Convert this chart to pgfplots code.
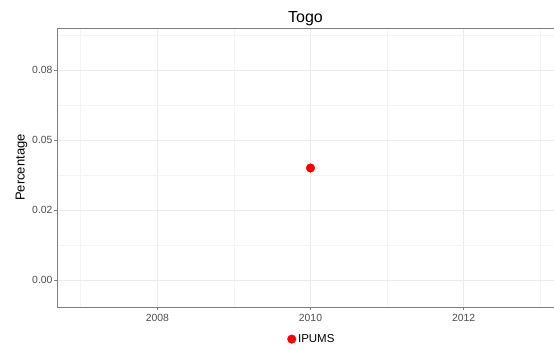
\documentclass[border=0pt]{standalone}
\usepackage{pgfplots}
\pgfplotsset{compat=1.18}
\usepackage{fontspec}
\setmainfont{Liberation Sans}
\definecolor{gridmaj}{HTML}{EBEBEB}
\definecolor{gridmin}{HTML}{F4F4F4}
\definecolor{ticktxt}{HTML}{4D4D4D}
\definecolor{frame}{HTML}{7F7F7F}
\begin{document}
\begin{tikzpicture}[x=1pt,y=1pt]
\useasboundingbox (0,0) rectangle (554,349);
\begin{axis}[
  at={(57pt,42pt)}, anchor=south west,
  scale only axis, width=497pt, height=279pt,
  xmin=2006.69, xmax=2013.18,
  ymin=-0.00964, ymax=0.09,
  scaled y ticks=false, scaled x ticks=false,
  xtick={2008,2010,2012},
  xticklabels={2008,2010,2012},
  minor xtick={2007,2009,2011,2013},
  ytick={0,0.025,0.05,0.075},
  yticklabels={0.00,0.02,0.05,0.08},
  minor ytick={0.0125,0.0375,0.0625,0.0875},
  grid=both,
  major grid style={gridmaj, line width=0.7pt},
  minor grid style={gridmin, line width=0.5pt},
  axis line style={frame, line width=0.8pt},
  tick style={frame, line width=0.6pt},
  tick align=outside,
  major tick length=3pt,
  minor tick length=0pt,
  xtick pos=bottom, ytick pos=left,
  ticklabel style={font=\fontsize{10.4}{12}\selectfont, text=ticktxt},
  xticklabel style={yshift=-0.5pt},
  yticklabel style={xshift=2pt},
  title={Togo},
  title style={font=\fontsize{16}{18}\selectfont, yshift=-7pt},
  ylabel={Percentage},
  ylabel style={font=\fontsize{13}{15}\selectfont, yshift=-2pt},
  legend style={at={(rel axis cs:0.513,-0.115)}, anchor=center, draw=none, fill=none,
    font=\fontsize{11.5}{13}\selectfont, legend columns=1},
  legend image post style={xshift=-4pt},
  legend cell align=left,
  clip=false,
]
\addplot[only marks, mark=*, mark size=4.3pt, color=red, fill=red] coordinates {(2010,0.04)};
\addlegendentry{IPUMS}
\end{axis}
\end{tikzpicture}
\end{document}
